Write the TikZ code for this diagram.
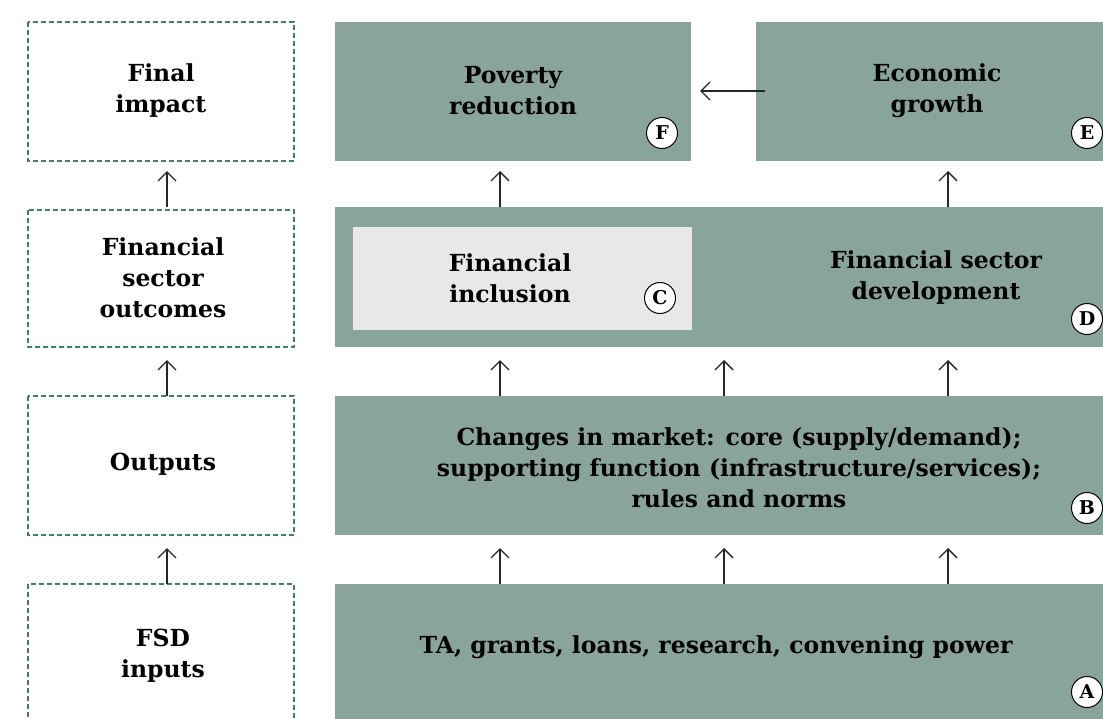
\documentclass[tikz,border=0pt]{standalone}
\usepackage{fontspec}
\setmainfont{DejaVu Serif}
\usetikzlibrary{arrows.meta}
\definecolor{boxgreen}{HTML}{89A49B}
\definecolor{dashgreen}{HTML}{3E7F6E}
\definecolor{innergray}{HTML}{E8E8E6}
\tikzset{
  greenbox/.style={fill=boxgreen, draw=none},
  dashbox/.style={draw=dashgreen, dash pattern=on 5pt off 3pt, line width=1.5pt},
  lbl/.style={font=\bfseries\fontsize{23.5}{31}\selectfont, align=center, text=black},
  letter/.style={circle, draw=black, fill=white, line width=1pt, minimum size=31pt, inner sep=0pt, font=\bfseries\fontsize{19}{19}\selectfont},
  arr/.style={draw=black!85, line width=1.3pt, -{Straight Barb[length=9pt,width=18pt,line width=1.3pt]}},
}
\begin{document}
\begin{tikzpicture}[x=1pt,y=-1pt]
\useasboundingbox (0,0) rectangle (1103,718);
% left dashed column
\draw[dashbox] (28,22) rectangle (294,161);
\draw[dashbox] (28,210) rectangle (294,347);
\draw[dashbox] (28,396) rectangle (294,535);
\draw[dashbox] (28,584) rectangle (294,730);
\node[lbl] (fi) at (161,91) {Final\\impact};
\node[lbl] (fso) at (163,278) {Financial\\sector\\outcomes};
\node[lbl] (out) at (163,464) {Outputs};
\node[lbl] (inp) at (163,656) {FSD\\inputs};
% green boxes
\fill[greenbox] (335,22) rectangle (691,161);
\fill[greenbox] (756,22) rectangle (1110,161);
\fill[greenbox] (335,207) rectangle (1110,347);
\fill[innergray] (353,227) rectangle (692,330);
\fill[greenbox] (335,396) rectangle (1110,535);
\fill[greenbox] (335,584) rectangle (1110,730);
\node[lbl] (F) at (513,91) {Poverty\\reduction};
\node[lbl] (E) at (937,91) {Economic\\growth};
\node[lbl] (C) at (510,278) {Financial\\inclusion};
\node[lbl] (D) at (936,278) {Financial sector\\development};
\node[lbl] (B) at (739,468) {Changes in market: core (supply/demand);\\supporting function (infrastructure/services);\\rules and norms};
\node[lbl] (A) at (716,647) {TA, grants, loans, research, convening power};
% letters
\node[letter] (lF) at (662,133) {F};
\node[letter] (lE) at (1087,133) {E};
\node[letter] (lD) at (1087,319) {D};
\node[letter] (lC) at (660,298) {C};
\node[letter] (lB) at (1087,508) {B};
\node[letter] (lA) at (1087,692) {A};
% arrow coordinates
\foreach \x/\n in {167/l,500/a,724/b,948/c}{
  \coordinate (\n1s) at (\x,207); \coordinate (\n1e) at (\x,171);
  \coordinate (\n2s) at (\x,396); \coordinate (\n2e) at (\x,360);
  \coordinate (\n3s) at (\x,584); \coordinate (\n3e) at (\x,548);
}
\draw[arr] (l1s) -- (l1e);
\draw[arr] (l2s) -- (l2e);
\draw[arr] (l3s) -- (l3e);
\draw[arr] (a1s) -- (a1e);
\draw[arr] (c1s) -- (c1e);
\draw[arr] (a2s) -- (a2e);
\draw[arr] (b2s) -- (b2e);
\draw[arr] (c2s) -- (c2e);
\draw[arr] (a3s) -- (a3e);
\draw[arr] (b3s) -- (b3e);
\draw[arr] (c3s) -- (c3e);
\coordinate (hs) at (765,91);
\coordinate (he) at (700,91);
\draw[arr] (hs) -- (he);
\end{tikzpicture}
\end{document}
